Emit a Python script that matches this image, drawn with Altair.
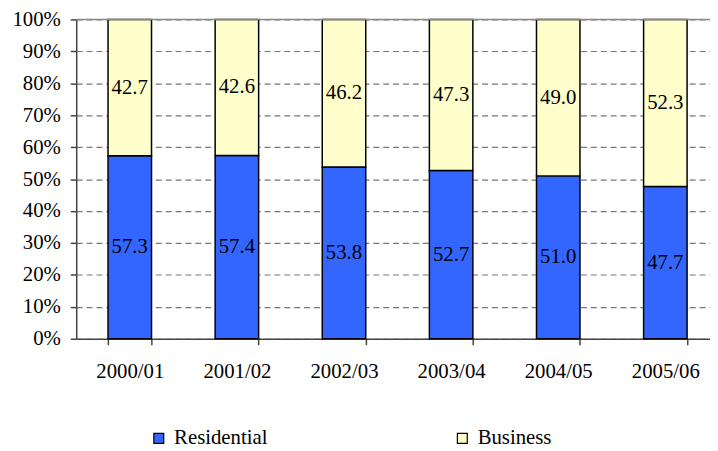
import altair as alt
import pandas as pd

years = ["2000/01", "2001/02", "2002/03", "2003/04", "2004/05", "2005/06"]
residential = [57.3, 57.4, 53.8, 52.7, 51.0, 47.7]
business = [42.7, 42.6, 46.2, 47.3, 49.0, 52.3]
series = ["Residential", "Business"]
colors = ["#3366FF", "#FFFFCC"]
y_ticks = [0, 0.1, 0.2, 0.3, 0.4, 0.5, 0.6, 0.7, 0.8, 0.9, 1.0]

rows = []
for i, yr in enumerate(years):
    rows.append({"year": yr, "series": "Residential", "order": 0, "value": residential[i] / 100})
    rows.append({"year": yr, "series": "Business", "order": 1, "value": business[i] / 100})
df = pd.DataFrame(rows)

FONT = "Liberation Serif"
FS = 21

xscale = alt.Scale(domain=years, range=[0, 650], paddingInner=0.594, paddingOuter=0.297)
xaxis = alt.Axis(
    labelAngle=0, tickBand="extent", tickSize=6, tickColor="#444", domainColor="#444",
    domainWidth=1.5, tickWidth=1.5, labelFont=FONT, labelFontSize=FS, labelColor="black",
    labelPadding=16, grid=False,
)
yscale = alt.Scale(domain=[0, 1], nice=False)
yaxis = alt.Axis(
    values=y_ticks, format="%", tickSize=6, tickColor="#444", domainColor="#444",
    domainWidth=1.5, tickWidth=1.5, labelFont=FONT, labelFontSize=FS, labelColor="black",
    labelPadding=10, labelOverlap=False, grid=True, gridColor="#777", gridDash=[6, 4],
    gridWidth=1.2,
)

base = alt.Chart(df).transform_stack(
    stack="value", groupby=["year"], sort=[alt.SortField("order", order="ascending")],
    as_=["y0", "y1"],
).transform_calculate(mid="(datum.y0 + datum.y1) / 2", pct="datum.value * 100")

bars = base.mark_bar(stroke="black", strokeWidth=1.5).encode(
    x=alt.X("year:N", sort=years, title=None, scale=xscale, axis=xaxis),
    y=alt.Y("y0:Q", title=None, scale=yscale, axis=yaxis),
    y2="y1:Q",
    color=alt.Color(
        "series:N",
        scale=alt.Scale(domain=series, range=colors),
        legend=alt.Legend(
            orient="none", legendX=73, legendY=413, direction="horizontal", title=None,
            symbolType="square", symbolSize=100, symbolStrokeColor="black", symbolStrokeWidth=1.2,
            symbolOpacity=1, labelFont=FONT, labelFontSize=FS, labelColor="black",
            labelOffset=5, columnPadding=186, padding=0,
        ),
    ),
    order=alt.Order("order:Q"),
)

labels = base.mark_text(
    font=FONT, fontSize=FS, color="black", baseline="middle", align="center"
).encode(
    x=alt.X("year:N", sort=years, title=None, scale=xscale, axis=xaxis),
    y=alt.Y("mid:Q", title=None, scale=yscale, axis=yaxis),
    text=alt.Text("pct:Q", format=".1f"),
)

top = alt.Chart(pd.DataFrame({"v": [1.0]})).mark_rule(color="#888", strokeWidth=1.5).encode(
    y=alt.Y("v:Q", title=None, scale=yscale, axis=yaxis)
)

chart = alt.layer(bars, labels, top).properties(
    width=641,
    height=323,
    autosize=alt.AutoSizeParams(type="none"),
    padding={"left": 69, "top": 9, "right": 0, "bottom": 111},
).configure_view(stroke=None)

chart.save("out.html", embed_options={"renderer": "svg", "actions": False})
